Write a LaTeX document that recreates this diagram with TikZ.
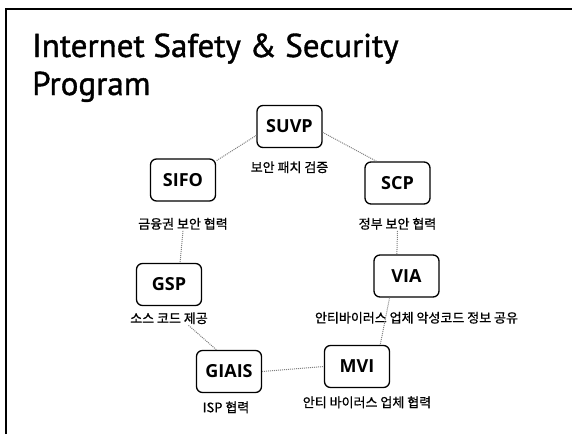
\documentclass[tikz,border=0pt]{standalone}
\usepackage{fontspec}
\setmainfont{Noto Sans CJK KR}
\newfontfamily\titlefont[FakeBold=1.2]{PT Sans}
\newfontfamily\boxfont{Open Sans}
\newfontfamily\lblfont[FakeBold=0.8]{Noto Sans CJK KR}
\usetikzlibrary{positioning}

\begin{document}
\begin{tikzpicture}[x=1pt,y=-1pt,
    box/.style={draw,rounded corners=6pt,line width=1.3pt,minimum width=65pt,
      minimum height=42pt,font=\boxfont\bfseries\fontsize{18}{18}\selectfont},
    lbl/.style={inner sep=1pt,font=\lblfont\fontsize{13}{14}\selectfont},
    link/.style={gray,densely dotted,line width=1pt}]
  \useasboundingbox (0,0) rectangle (572,434);
  % frame and title
  \draw[line width=2pt] (6,434) -- (6,9) -- (572,9);
  \node[anchor=base west,inner sep=0pt,font=\titlefont\fontsize{33}{33}\selectfont]
    (title) at (32,57) {Internet Safety \& Security};
  \node[anchor=base west,inner sep=0pt,font=\titlefont\fontsize{33}{33}\selectfont]
    (title2) at (32,95) {Program};
  % programs
  \node[box] (suvp) at (289.5,126.5) {SUVP};
  \node[box] (sifo) at (183,180) {SIFO};
  \node[box] (scp) at (397.5,183) {SCP};
  \node[box] (gsp) at (169,284.5) {GSP};
  \node[box] (via) at (406.5,276) {VIA};
  \node[box] (giais) at (229,371.5) {GIAIS};
  \node[box] (mvi) at (357,366.5) {MVI};
  \node[lbl,below=12pt of suvp] (suvplbl) {보안 패치 검증};
  \node[lbl,below=15pt of sifo] (sifolbl) {금융권 보안 협력};
  \node[lbl,below=12pt of scp] (scplbl) {정부 보안 협력};
  \node[lbl,below=5pt of gsp] (gsplbl) {소스 코드 제공};
  \node[lbl,below=13pt of via,xshift=10pt] (vialbl) {안티바이러스 업체 악성코드 정보 공유};
  \node[lbl,below=7pt of giais,xshift=-3pt] (giaislbl) {ISP 협력};
  \node[lbl,below=7pt of mvi,xshift=10pt] (mvilbl) {안티 바이러스 업체 협력};
  % links
  \draw[link] (suvp.195) -- (sifo.30);
  \draw[link] (suvp.-10) -- (scp.134);
  \draw[link] (sifolbl.south) -- (gsp.63);
  \draw[link] (scplbl.south) -- (via.114);
  \draw[link] (via.-128) -- (mvi.43);
  \draw[link] (gsplbl.-20) -- (giais.120);
  \draw[link] (giais.east) -- (mvi.west);
\end{tikzpicture}
\end{document}
